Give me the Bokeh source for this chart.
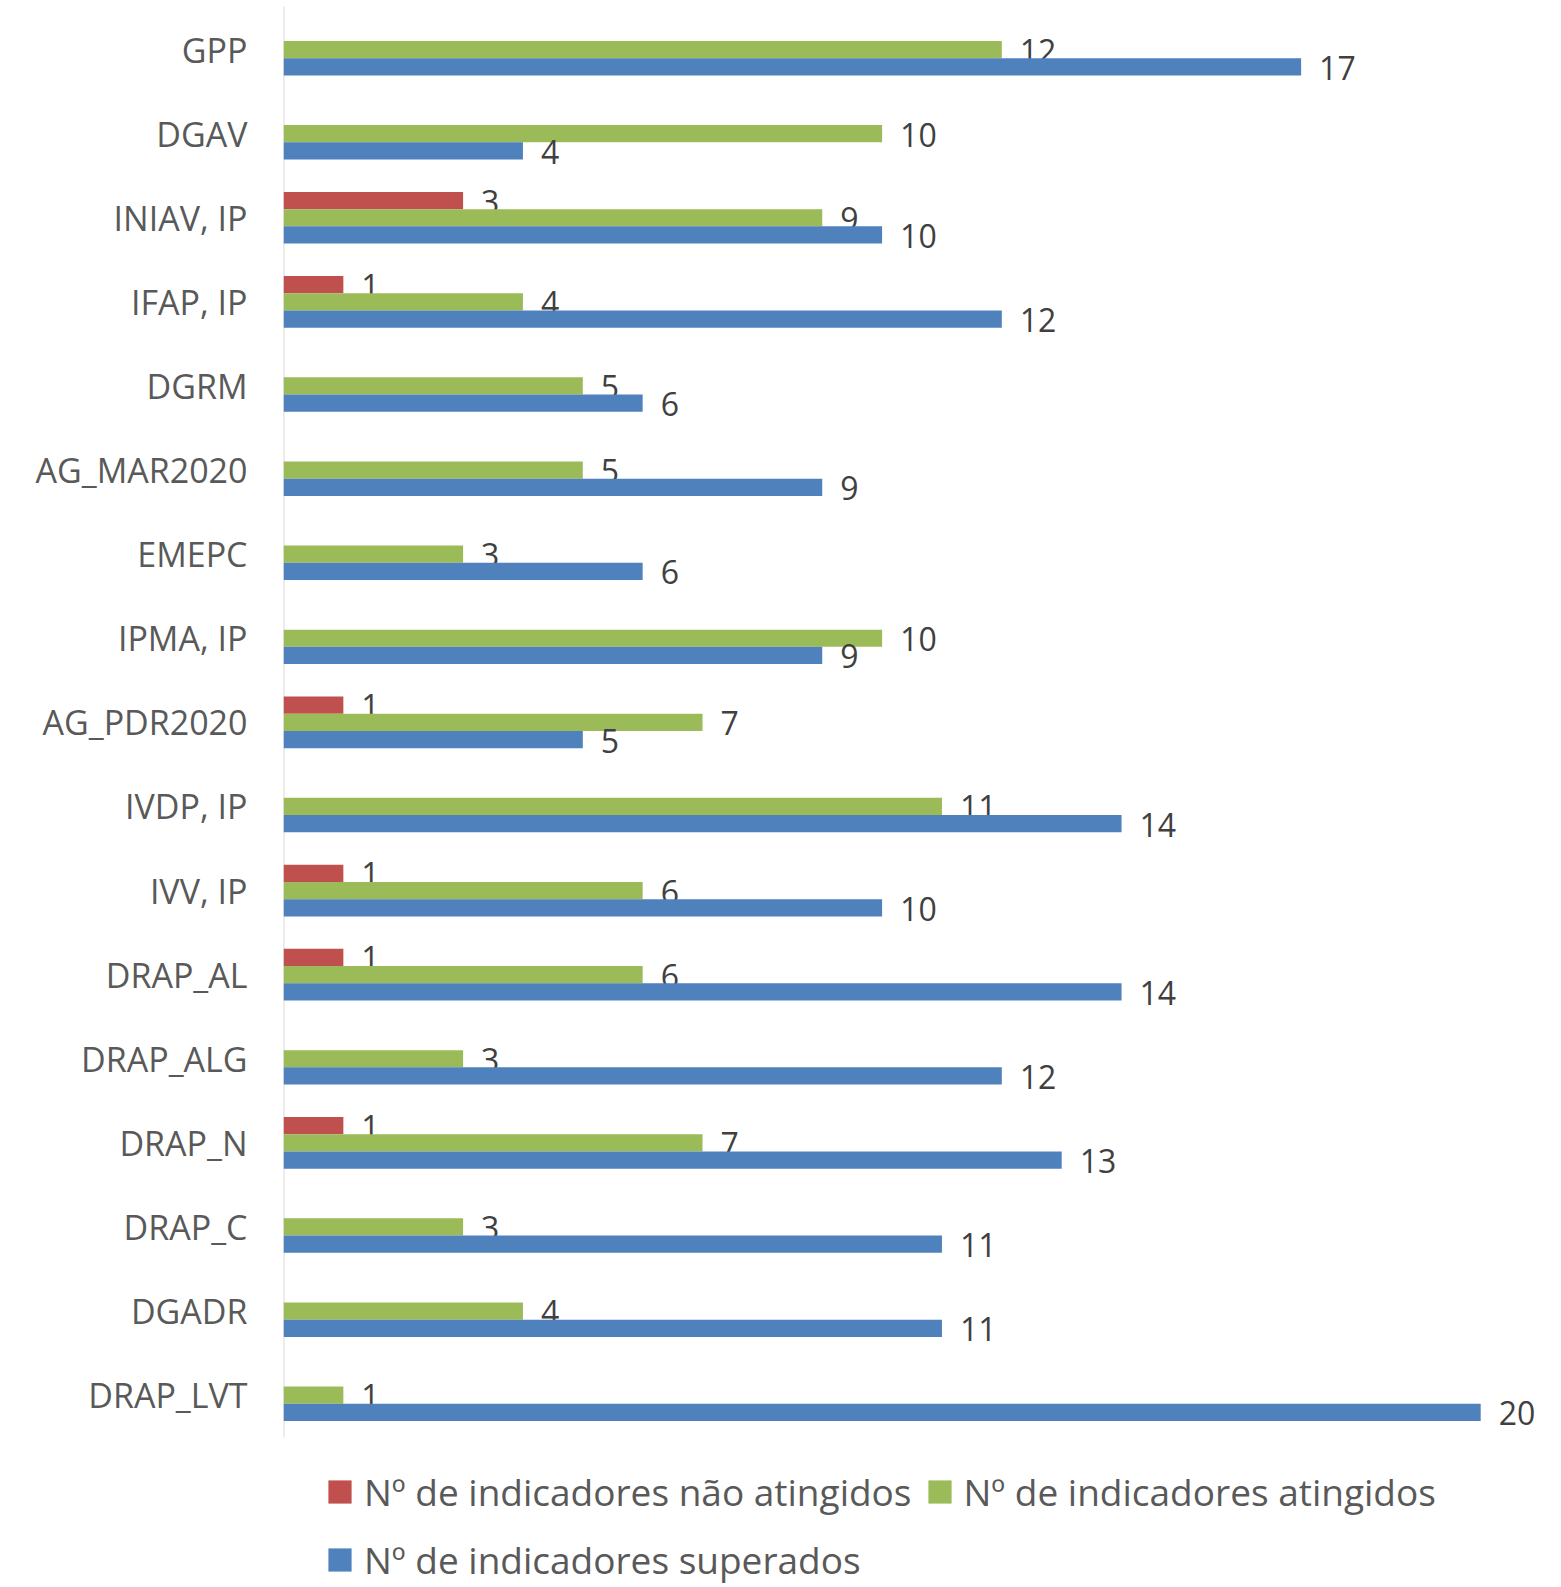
from bokeh.plotting import figure
from bokeh.models import ColumnDataSource, Range1d, Legend, LegendItem, FixedTicker
from bokeh.core.properties import value
from bokeh.embed import file_html
from bokeh.resources import INLINE

categories = ["GPP", "DGAV", "INIAV, IP", "IFAP, IP", "DGRM", "AG_MAR2020", "EMEPC",
              "IPMA, IP", "AG_PDR2020", "IVDP, IP", "IVV, IP", "DRAP_AL", "DRAP_ALG",
              "DRAP_N", "DRAP_C", "DGADR", "DRAP_LVT"]
nao_atingidos = [0, 0, 3, 1, 0, 0, 0, 0, 1, 0, 1, 1, 0, 1, 0, 0, 0]
atingidos = [12, 10, 9, 4, 5, 5, 3, 10, 7, 11, 6, 6, 3, 7, 3, 4, 1]
superados = [17, 4, 10, 12, 6, 9, 6, 9, 5, 14, 10, 14, 12, 13, 11, 11, 20]
series_names = ["Nº de indicadores não atingidos", "Nº de indicadores atingidos",
                "Nº de indicadores superados"]
colors = ["#C0504D", "#9BBB59", "#4F81BD"]

FONT = "Open Sans"
W, H = 1556, 1587
LEFT = 283
TOP_PAD = 7
FRAME_W = W - LEFT - 4
PX_X = 59.86   # px per unit on value axis
PX_Y = 84.1    # px per category slot
N = len(categories)

# category slot centres: first category at top
cat_pos = [N - 0.5 - i for i in range(N)]

y_end = N + TOP_PAD / PX_Y
p = figure(width=W, height=H, output_backend="svg", toolbar_location=None,
           x_range=Range1d(0, FRAME_W / PX_X),
           y_range=Range1d(y_end - H / PX_Y, y_end),
           min_border_left=LEFT, min_border_top=0,
           min_border_right=W - LEFT - FRAME_W, min_border_bottom=0)
p.outline_line_color = None
p.grid.visible = False
p.xaxis.visible = False

yax = p.yaxis[0]
yax.ticker = FixedTicker(ticks=cat_pos)
yax.major_label_overrides = {pos: c for pos, c in zip(cat_pos, categories)}
yax.axis_line_color = None
yax.major_tick_line_color = None
yax.minor_tick_line_color = None
yax.major_tick_out = 0
yax.major_label_standoff = 36
yax.major_label_text_font = FONT
yax.major_label_text_font_size = "34px"
yax.major_label_text_color = "#595959"

# category axis line (spans the category slots only)
p.segment(x0=[0], y0=[0], x1=[0], y1=[N + 0.01], line_color="#D9D9D9", line_width=2)

BH = 0.205
offsets = [BH, 0.0, -BH]
series = [nao_atingidos, atingidos, superados]
renderers = []
for vals, off, col in zip(series, offsets, colors):
    ys = [pos + off for pos, v in zip(cat_pos, vals) if v > 0]
    vs = [v for v in vals if v > 0]
    src = ColumnDataSource(dict(y=ys, val=vs, lab=[str(v) for v in vs]))
    r = p.hbar(y="y", right="val", left=0, height=BH, source=src,
               fill_color=col, line_color=None)
    renderers.append(r)
    p.text(x="val", y="y", text="lab", source=src, x_offset=18, y_offset=1,
           text_baseline="middle", text_align="left", text_font=value(FONT),
           text_font_size="32px", text_color="#404040")

# legend fills column-major: order items so rows read red, green / blue
order = [0, 2, 1]
legend = Legend(items=[LegendItem(label=series_names[i], renderers=[renderers[i]]) for i in order],
                ncols=2, location=(42, 0), border_line_color=None,
                background_fill_alpha=0, glyph_width=29, glyph_height=29,
                label_standoff=10, spacing=13, padding=0,
                label_text_font=FONT, label_text_font_size="37px",
                label_text_color="#595959", label_height=55)
p.add_layout(legend, "center")

open("out.html", "w").write(file_html(p, INLINE))
